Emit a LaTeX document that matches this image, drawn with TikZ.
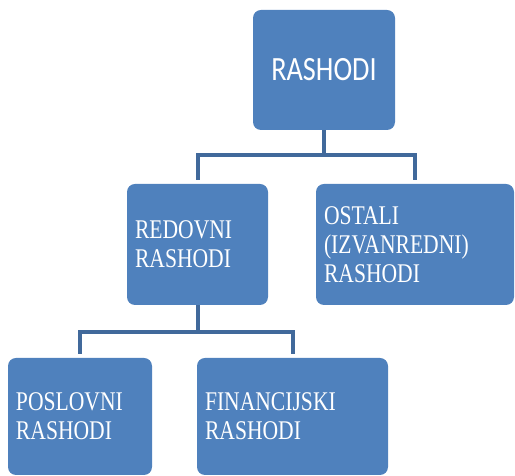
\documentclass[tikz,border=0pt]{standalone}
\usepackage{fontspec}
\setmainfont{Liberation Serif}
\newfontfamily\boxfont[FakeStretch=0.8]{Liberation Serif}
\newfontfamily\topfont[FakeStretch=0.83]{Carlito}
\usetikzlibrary{positioning,calc}
\definecolor{boxblue}{HTML}{4F81BD}
\definecolor{lineblue}{HTML}{41699B}
\begin{document}
\begin{tikzpicture}[x=1pt,y=1pt,
    box/.style={fill=boxblue, rounded corners=8pt, text=white, inner xsep=8pt, inner ysep=0pt,
        align=left, minimum height=121pt, font=\boxfont\fontsize{27}{29}\selectfont},
    conn/.style={draw=lineblue, line width=4pt}]
    \useasboundingbox (0,0) rectangle (515,476);
    \node [box, text width=126pt, align=center, minimum height=120pt,
        font=\topfont\fontsize{34}{38}\selectfont] (top) at (324,406) {RASHODI};
    \node [box, text width=125pt] (red) at (197.5,231.5) {REDOVNI\\RASHODI};
    \node [box, text width=182pt] (ost) at (415,231.5) {OSTALI\\(IZVANREDNI)\\RASHODI};
    \node [box, text width=128pt, minimum height=117pt] (pos) at (80,59.5) {POSLOVNI\\RASHODI};
    \node [box, text width=175pt, minimum height=117pt] (fin) at (292.5,59.5) {FINANCIJSKI\\RASHODI};
    % connectors
    \coordinate (bar1) at ($(top.south)+(0,-25)$);
    \coordinate (bar2) at ($(red.south)+(0,-27)$);
    \draw [conn] (top.south) -- (bar1);
    \draw [conn, shorten <=4pt, shorten >=4pt] (red.north) |- (bar1) -| (ost.north);
    \draw [conn] (red.south) -- (bar2);
    \draw [conn, shorten <=4pt, shorten >=4pt] (pos.north) |- (bar2) -| (fin.north);
\end{tikzpicture}
\end{document}
